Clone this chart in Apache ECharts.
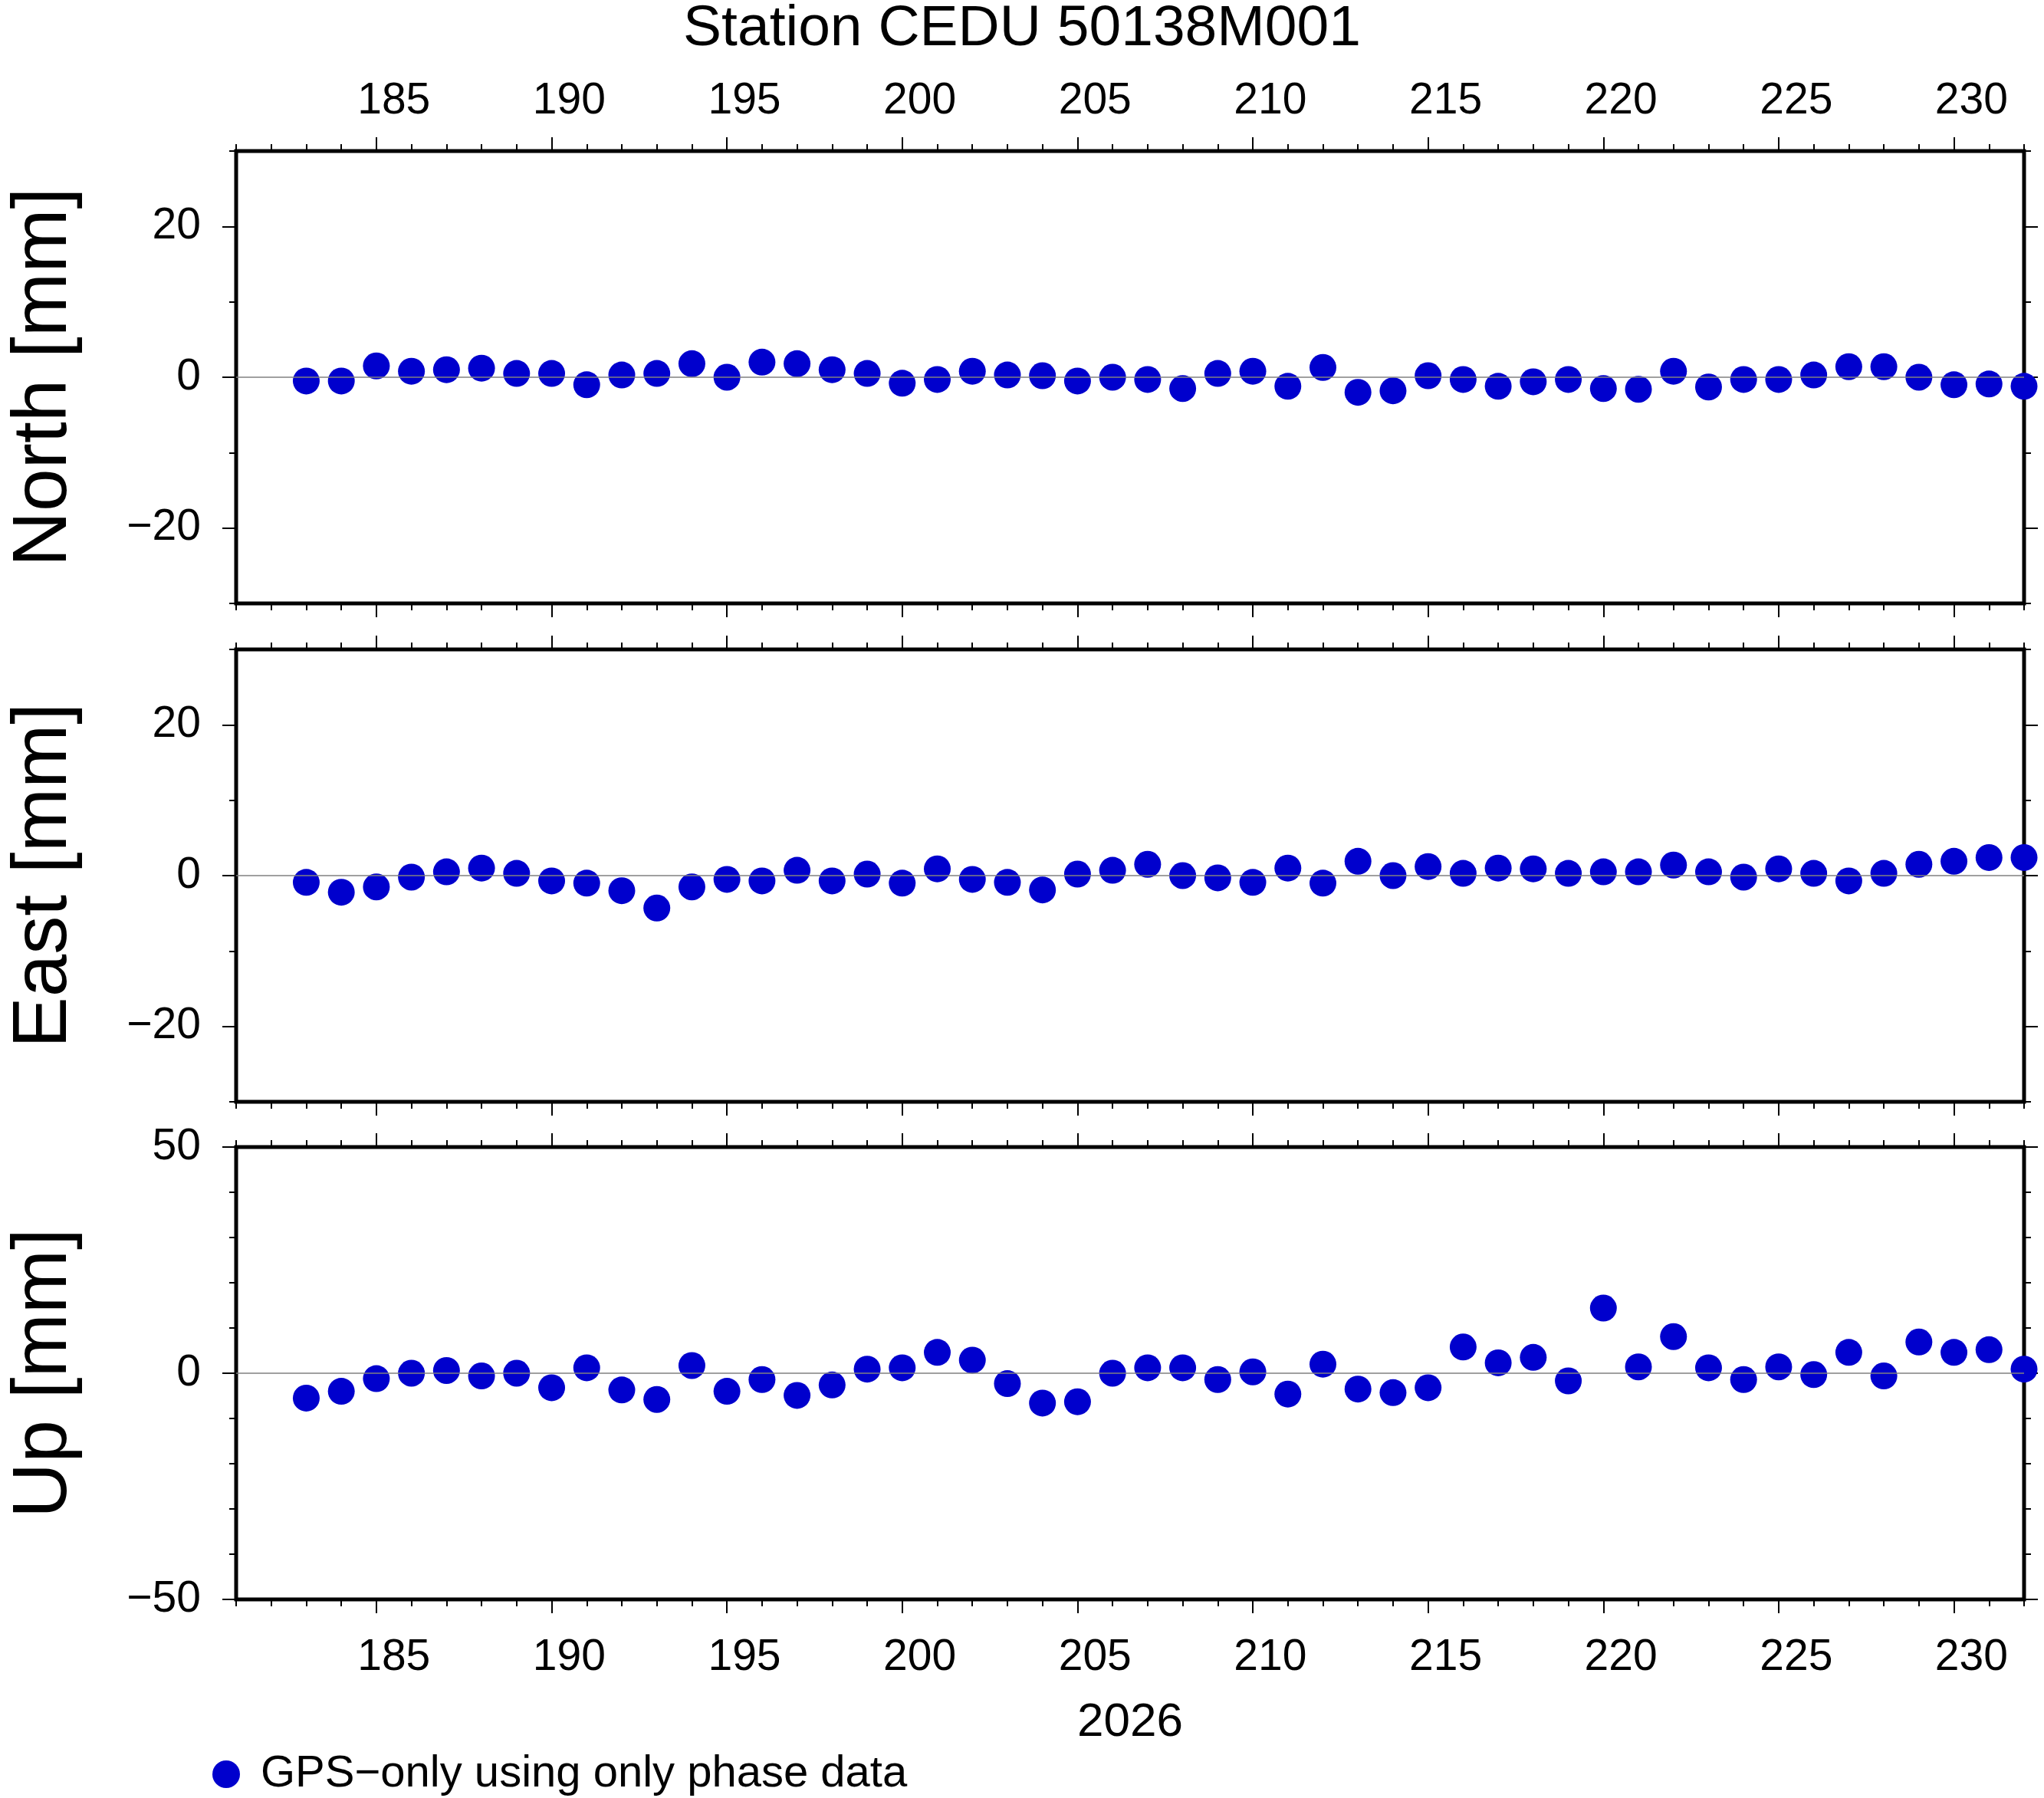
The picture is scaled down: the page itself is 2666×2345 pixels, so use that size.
<!DOCTYPE html>
<html>
<head>
<meta charset="UTF-8">
<script src="https://cdn.jsdelivr.net/npm/echarts@6/dist/echarts.min.js"></script>
<style>html,body{margin:0;padding:0;background:#fff}#main{width:2666px;height:2345px}</style>
</head>
<body>
<div id="main"></div>
<script>
var days = [];
for (var d = 183; d <= 232; d++) days.push(d);
var north = [-0.5,-0.5,1.5,0.8,1,1.2,0.5,0.5,-1,0.3,0.5,1.8,0,2,1.8,1,0.5,-0.8,-0.3,0.8,0.3,0.2,-0.5,0,-0.3,-1.5,0.5,0.8,-1.2,1.3,-2,-1.8,0.2,-0.3,-1.2,-0.6,-0.3,-1.5,-1.6,0.8,-1.3,-0.3,-0.3,0.3,1.4,1.4,0,-1,-0.9,-1.2];
var east = [-0.9,-2.2,-1.5,-0.2,0.5,1,0.3,-0.7,-1,-2,-4.3,-1.5,-0.5,-0.7,0.7,-0.7,0.2,-1,0.9,-0.5,-0.9,-1.9,0.2,0.7,1.5,0,-0.3,-0.9,1,-1,1.9,0,1.2,0.3,1,0.9,0.3,0.5,0.5,1.4,0.5,-0.2,0.9,0.3,-0.7,0.3,1.5,1.9,2.4,2.4];
var up = [-5.5,-4,-1.2,0,0.6,-0.6,0,-3.2,1.2,-3.7,-5.8,1.7,-4,-1.4,-4.9,-2.6,0.9,1.2,4.6,2.9,-2.3,-6.6,-6.3,0,1.2,1.2,-1.4,0.3,-4.6,2,-3.5,-4.3,-3.2,5.8,2.3,3.5,-1.7,14.4,1.4,8.1,1.2,-1.4,1.4,-0.3,4.6,-0.6,6.9,4.6,5.2,0.9];
var xMajor = [185,190,195,200,205,210,215,220,225,230];
var panels = [
  {name: 'North [mm]', data: north, min: -30, max: 30, labels: [-20,0,20], minor: 10},
  {name: 'East [mm]', data: east, min: -30, max: 30, labels: [-20,0,20], minor: 10},
  {name: 'Up [mm]', data: up, min: -50, max: 50, labels: [-50,0,50], minor: 10}
];
var tops = [197, 847, 1496];
var H = 590;
var font = 'Liberation Sans, Helvetica, Arial, sans-serif';
var minus = function (v) { return String(v).replace('-', '\u2212'); };

var grid = [], xAxis = [], yAxis = [], series = [];
panels.forEach(function (p, i) {
  grid.push({left: 277, right: 26, top: tops[i], height: H, show: true,
    borderColor: '#000', borderWidth: 5, backgroundColor: 'transparent'});
  ['top', 'bottom'].forEach(function (pos) {
    // minor ticks every day
    xAxis.push({type: 'value', gridIndex: i, position: pos, min: 181, max: 232, interval: 1,
      axisLine: {show: false, onZero: false}, splitLine: {show: false}, axisLabel: {show: false},
      axisTick: {show: true, length: 9, lineStyle: {color: '#000', width: 2}}});
    var showLab = (i === 0 && pos === 'top') || (i === 2 && pos === 'bottom');
    xAxis.push({type: 'value', gridIndex: i, position: pos, min: 181, max: 232,
      name: (i === 2 && pos === 'bottom') ? '2026' : '', nameLocation: 'middle', nameGap: 130,
      nameTextStyle: {fontFamily: font, fontSize: 62, color: '#000'},
      axisLine: {show: false, onZero: false}, splitLine: {show: false},
      axisTick: {show: true, length: 18, customValues: xMajor, lineStyle: {color: '#000', width: 2}},
      axisLabel: {show: showLab, customValues: xMajor.map(function (v) { return v + 0.5; }),
        formatter: function (v) { return Math.floor(v); },
        margin: pos === 'top' ? 36 : 48, fontFamily: font, fontSize: 57, color: '#000'}});
  });
  ['left', 'right'].forEach(function (pos) {
    yAxis.push({type: 'value', gridIndex: i, position: pos, min: p.min, max: p.max, interval: p.minor,
      axisLine: {show: false, onZero: false}, splitLine: {show: false}, axisLabel: {show: false},
      axisTick: {show: true, length: 9, lineStyle: {color: '#000', width: 2}}});
    yAxis.push({type: 'value', gridIndex: i, position: pos, min: p.min, max: p.max,
      name: pos === 'left' ? p.name : '', nameLocation: 'middle', nameGap: 200,
      nameTextStyle: {fontFamily: font, fontSize: 100, color: '#000'},
      axisLine: {show: false, onZero: false}, splitLine: {show: false},
      axisTick: {show: true, length: 18, customValues: p.labels, lineStyle: {color: '#000', width: 2}},
      axisLabel: {show: pos === 'left', customValues: p.labels, formatter: minus,
        margin: 46, fontFamily: font, fontSize: 57, color: '#000'}});
  });
  series.push({
    name: 'GPS\u2212only using only phase data', type: 'scatter',
    xAxisIndex: i * 4, yAxisIndex: i * 4, clip: false,
    symbolSize: 35, itemStyle: {color: '#0000CD', opacity: 1},
    data: days.map(function (d, k) { return [d, p.data[k]]; }),
    markLine: {silent: true, symbol: 'none', label: {show: false},
      lineStyle: {color: '#808080', width: 1.5, type: 'solid'}, data: [{yAxis: 0}]},
    z: 3
  });
});

var chart = echarts.init(document.getElementById('main'), null, {renderer: 'canvas'});
chart.setOption({
  animation: false,
  backgroundColor: '#fff',
  title: {text: 'Station CEDU 50138M001', left: 'center', top: -4,
    textStyle: {fontFamily: font, fontSize: 75, fontWeight: 'normal', color: '#000'}},
  legend: {data: [series[0].name], left: 272, top: 2280, icon: 'circle', itemWidth: 36, itemHeight: 36,
    itemGap: 20, textStyle: {fontFamily: font, fontSize: 58, color: '#000', padding: [0, 0, 0, 22]}},
  grid: grid, xAxis: xAxis, yAxis: yAxis, series: series
});
</script>
</body>
</html>
